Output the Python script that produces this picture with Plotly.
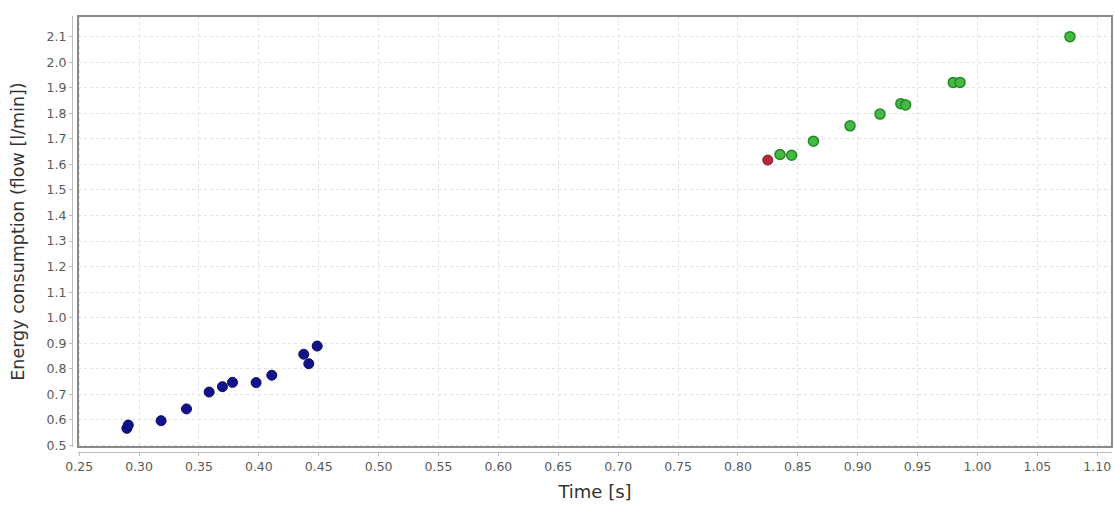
import plotly.graph_objects as go

blue_x = [0.2898, 0.2910, 0.3184, 0.3396, 0.3585, 0.3696, 0.3780, 0.3977, 0.4108, 0.4375, 0.4417, 0.4487]
blue_y = [0.567, 0.580, 0.597, 0.643, 0.709, 0.730, 0.747, 0.746, 0.775, 0.857, 0.820, 0.889]

red_x = [0.8249]
red_y = [1.617]

green_x = [0.8351, 0.8448, 0.8630, 0.8936, 0.9186, 0.9360, 0.9400, 0.9798, 0.9854, 1.0772]
green_y = [1.639, 1.636, 1.691, 1.751, 1.797, 1.838, 1.833, 1.921, 1.921, 2.100]

x_ticks = [round(0.25 + 0.05 * i, 2) for i in range(18)]
y_ticks = [round(0.5 + 0.1 * i, 1) for i in range(17)]

fig = go.Figure()
fig.add_trace(go.Scatter(x=blue_x, y=blue_y, mode="markers",
                         marker=dict(size=10, color="#12128c", line=dict(color="#0a0a6a", width=1))))
fig.add_trace(go.Scatter(x=red_x, y=red_y, mode="markers",
                         marker=dict(size=10, color="#b02a3c", line=dict(color="#8a1e2c", width=1))))
fig.add_trace(go.Scatter(x=green_x, y=green_y, mode="markers",
                         marker=dict(size=10, color="#46b846", line=dict(color="#238a23", width=1.5))))

W, H = 1115, 505
ml, mr, mt, mb = 72, 3, 16, 53
pw = W - ml - mr
ph = H - mt - mb
xd0 = 6 / pw
yd0 = 5 / ph

fig.update_layout(
    width=W, height=H,
    margin=dict(l=ml, r=mr, t=mt, b=mb, autoexpand=False),
    paper_bgcolor="white", plot_bgcolor="white",
    showlegend=False,
    font=dict(family="DejaVu Sans", color="#444"),
    xaxis=dict(domain=[xd0, 1], anchor="free", position=0, automargin=False,
               range=[0.249, 1.1123], tickvals=x_ticks, tickformat=".2f",
               showgrid=True, gridcolor="#e2e2e2", griddash="dot", gridwidth=1,
               showline=True, linecolor="#bbbbbb", linewidth=1,
               ticks="outside", ticklen=3, tickcolor="#bbbbbb",
               tickfont=dict(size=12.5, color="#5a5a5a"), zeroline=False,
               title=dict(text="Time [s]", font=dict(size=18, color="#333"), standoff=12)),
    yaxis=dict(domain=[yd0, 1], anchor="free", position=0, automargin=False,
               range=[0.494, 2.181], tickvals=y_ticks, tickformat=".1f",
               showgrid=True, gridcolor="#e2e2e2", griddash="dot", gridwidth=1,
               showline=True, linecolor="#bbbbbb", linewidth=1,
               ticks="outside", ticklen=3, tickcolor="#bbbbbb",
               tickfont=dict(size=12.5, color="#5a5a5a"), zeroline=False,
               title=dict(text="Energy consumption (flow [l/min])", font=dict(size=17.5, color="#333"), standoff=16)),
)
fig.add_shape(type="rect", xref="x domain", yref="y domain", x0=0, x1=1, y0=0, y1=1,
              line=dict(color="#8a8a8a", width=2), layer="above")

fig.write_html("out.html", config={"displayModeBar": False},
               post_script="document.body.style.margin='0';document.body.style.overflow='hidden';")
